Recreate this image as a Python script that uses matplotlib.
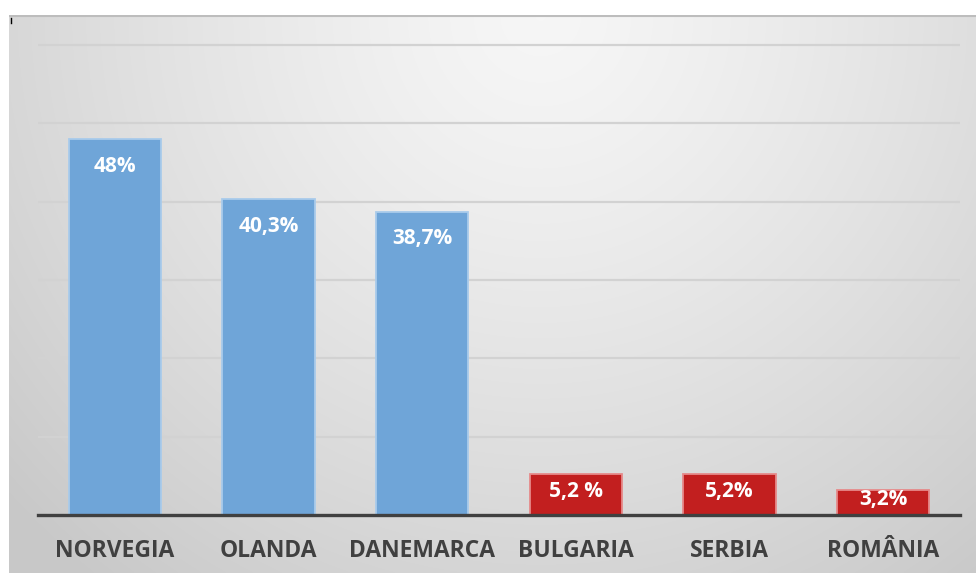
import numpy as np
import matplotlib
matplotlib.use("Agg")
import matplotlib.pyplot as plt
from matplotlib.lines import Line2D

categories = ["NORVEGIA", "OLANDA", "DANEMARCA", "BULGARIA", "SERBIA", "ROMÂNIA"]
values = [48.0, 40.3, 38.7, 5.2, 5.2, 3.2]
value_labels = ["48%", "40,3%", "38,7%", "5,2 %", "5,2%", "3,2%"]
bar_colors = ["#6fa5d8", "#6fa5d8", "#6fa5d8", "#c21f1f", "#c21f1f", "#c21f1f"]
edge_colors = ["#a9cbeb", "#a9cbeb", "#a9cbeb", "#e68a8a", "#e68a8a", "#e68a8a"]
grid_vals = [10, 20, 30, 40, 50, 60]

W, H = 976, 573
fig = plt.figure(figsize=(W / 100, H / 100), dpi=100)
fig.patch.set_facecolor("white")

# gradient background
bg = fig.add_axes([9 / W, 0, (W - 9) / W, (H - 15) / H], zorder=-5)
ny, nx = 300, 500
yy, xx = np.mgrid[0:1:ny * 1j, 0:1:nx * 1j]
d = np.sqrt(((xx - 0.55) / 0.75) ** 2 + ((yy - 0.0) / 1.3) ** 2)
d = np.clip(d, 0, 1)
val = 0.965 - 0.18 * d ** 1.3
img = np.dstack([val, val, val])
bg.imshow(img, aspect="auto", extent=[0, 1, 1, 0], interpolation="bilinear")
bg.set_xlim(0, 1)
bg.set_ylim(1, 0)
bg.axis("off")
bg.add_line(Line2D([0, 1], [0.002, 0.002], color="#bdbdbd", lw=1.5))
bg.add_line(Line2D([0.002, 0.002], [0.005, 0.015], color="black", lw=1))

left, right = 38, 960
bottom_px, top_px = 515, 42.7
ax = fig.add_axes([left / W, (H - bottom_px) / H, (right - left) / W, (bottom_px - top_px) / H])
ax.set_facecolor("none")
x = np.arange(len(categories))
ax.set_xlim(-0.5, len(categories) - 0.5)
ax.set_ylim(0, 60.3)

for g in grid_vals:
    ax.axhline(g, color="#d2d2d2", lw=1.6, zorder=0)

bars = ax.bar(x, values, width=0.6, color=bar_colors, edgecolor=edge_colors, linewidth=1.3, zorder=2)

for s in ["top", "right", "left"]:
    ax.spines[s].set_visible(False)
ax.spines["bottom"].set_color("#404040")
ax.spines["bottom"].set_linewidth(2.4)
ax.spines["bottom"].set_zorder(3)
ax.set_yticks([])
ax.set_xticks(x)
ax.set_xticklabels(categories, fontsize=16.5, fontweight="bold", color="#404040", family="Open Sans")
ax.tick_params(axis="x", length=0, pad=17)

ppu = (bottom_px - top_px) / 60.3
for xi, v, lab in zip(x, values, value_labels):
    if v > 10:
        off_px = v * ppu - 27
    else:
        off_px = v * ppu / 2 + 3
    ax.annotate(lab, xy=(xi, 0), xytext=(0, off_px * 72 / 100), textcoords="offset points",
                ha="center", va="center", color="white", fontsize=15, fontweight="bold",
                family="Open Sans", zorder=4)

fig.savefig("out.png", dpi=100)
